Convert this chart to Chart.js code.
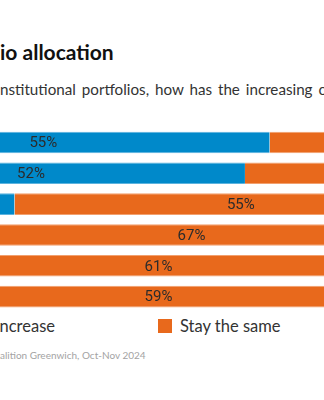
<!DOCTYPE html>
<html>
<head>
<meta charset="utf-8">
<script src="https://cdn.jsdelivr.net/npm/chart.js@4.4.1/dist/chart.umd.min.js"></script>
<style>
  html, body { margin: 0; padding: 0; background: #fff; }
  body {
    width: 324px; height: 400px; overflow: hidden; position: relative;
    font-family: Lato, "Open Sans", sans-serif; color: #222;
  }
  .line { position: absolute; left: 0; white-space: nowrap; }
  .lead { position: absolute; right: 100%; top: 0; }
  #title { top: 39px; font-size: 21px; font-weight: bold; color: #111; }
  #subtitle { top: 80px; font-size: 15.2px; word-spacing: 2px; color: #333; }
  #chartBox { position: absolute; left: -183px; top: 127px; width: 823px; height: 185px; }
  #legend { position: absolute; top: 316px; display: flex; gap: 103px; white-space: nowrap; font-size: 16.5px; color: #333; }
  #legend .item { display: flex; align-items: center; }
  #legend .swatch { width: 14px; height: 14px; margin-right: 8px; }
  #source { top: 349px; font-size: 10px; color: #a3a3a3; }
</style>
</head>
<body>
  <div id="title" class="line"><span class="lead">Portfol</span>io allocation</div>
  <div id="subtitle" class="line"><span class="lead">In i</span>nstitutional portfolios, how has the increasing concentration</div>
  <div id="chartBox"><canvas id="allocationChart"></canvas></div>
  <div id="legend"></div>
  <div id="source" class="line"><span class="lead">Source: Co</span>alition Greenwich, Oct-Nov 2024</div>

<script>
  const categories = ['Public equities', 'Fixed income', 'Private equity', 'Private credit', 'Real estate', 'Hedge funds'];
  const increase = [55, 52, 24, 12, 11, 12];
  const stayTheSame = [38, 41, 55, 67, 61, 59];
  const decrease = [7, 7, 21, 21, 28, 29];

  const seriesNames = ['Increase', 'Stay the same', 'Decrease'];
  const seriesColors = ['#0089ca', '#e8691c', '#a6a8ab'];
  const seriesEdges = ['#5cb3de', '#f2a06e', '#c8cacc'];
  const seriesValues = [increase, stayTheSame, decrease];

  // percent labels in the middle of each segment
  const segmentLabels = {
    id: 'segmentLabels',
    afterDatasetsDraw(chart) {
      const ctx = chart.ctx;
      ctx.save();
      ctx.font = '15px "Liberation Sans Narrow", "Roboto", sans-serif';
      ctx.fillStyle = '#2b2b2b';
      ctx.textAlign = 'center';
      ctx.textBaseline = 'middle';
      chart.data.datasets.forEach((ds, i) => {
        chart.getDatasetMeta(i).data.forEach((bar, j) => {
          const v = ds.data[j];
          if (v < 15) return;
          const { x, y, base } = bar.getProps(['x', 'y', 'base'], true);
          ctx.fillText(v + '%', (x + base) / 2, y + 1);
        });
      });
      ctx.restore();
    }
  };

  new Chart(document.getElementById('allocationChart'), {
    type: 'bar',
    data: {
      labels: categories,
      datasets: seriesNames.map((name, i) => ({
        label: name,
        data: seriesValues[i],
        backgroundColor: seriesColors[i],
        borderColor: seriesEdges[i],
        borderWidth: { top: 1, bottom: 1, left: 0, right: 0 },
        borderSkipped: false,
        barPercentage: 1,
        categoryPercentage: 0.7
      }))
    },
    options: {
      indexAxis: 'y',
      responsive: true,
      maintainAspectRatio: false,
      animation: false,
      layout: { padding: 0 },
      plugins: { legend: { display: false }, tooltip: { enabled: false } },
      scales: {
        x: { stacked: true, min: 0, max: 100, display: false },
        y: { stacked: true, display: false }
      }
    },
    plugins: [segmentLabels]
  });

  const legend = document.getElementById('legend');
  seriesNames.forEach((name, i) => {
    const item = document.createElement('div');
    item.className = 'item';
    item.innerHTML = '<span class="swatch" style="background:' + seriesColors[i] + '"></span>' + name;
    legend.appendChild(item);
  });
  legend.style.left = (158 - legend.children[1].offsetLeft) + 'px';
</script>
</body>
</html>
